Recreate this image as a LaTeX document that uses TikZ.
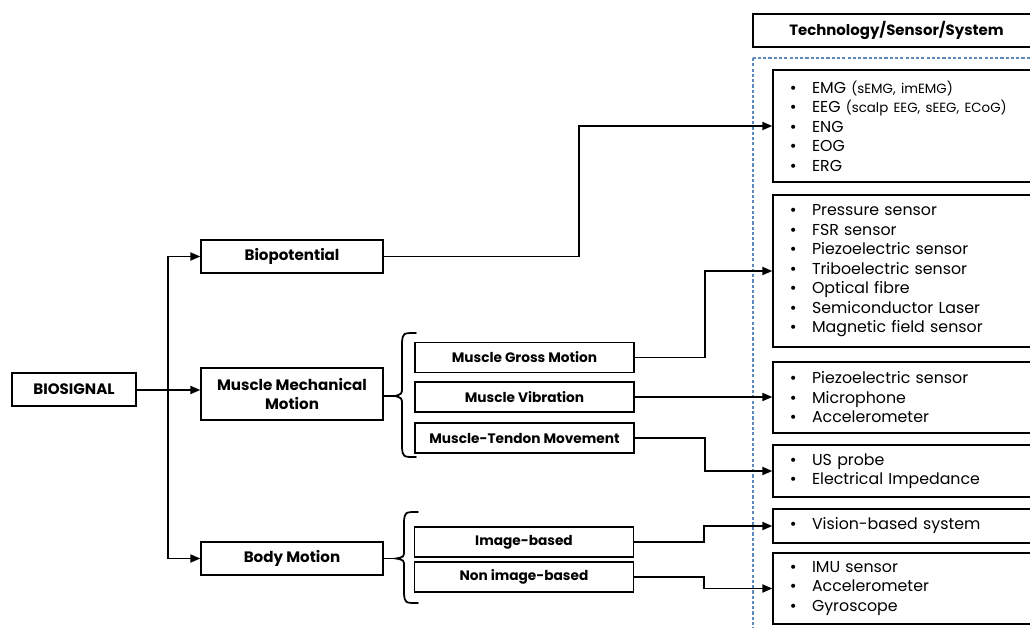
\documentclass[tikz,border=0pt]{standalone}
\usepackage{fontspec}
\setmainfont{Poppins}
\newfontfamily\bulletfont{DejaVu Sans}
\usetikzlibrary{arrows.meta}
\definecolor{dashblue}{RGB}{92,136,188}
\newcommand{\itm}[1]{\makebox[0.46cm][l]{{\bulletfont\fontsize{8}{9}\selectfont •}}#1}
\newcommand{\sm}[1]{{\fontsize{7.6}{9}\selectfont #1}}
\begin{document}
\begin{tikzpicture}[x=0.02cm,y=-0.02cm,
  box/.style={draw, line width=0.8pt, inner sep=0pt, font=\bfseries\fontsize{8.6}{10.5}\selectfont, align=center},
  subbox/.style={box, minimum width=4.38cm, minimum height=0.6cm, font=\bfseries\fontsize{7.8}{9}\selectfont},
  listbox/.style={draw, line width=0.8pt, inner xsep=0.32cm, inner ysep=0pt, text width=4.7cm, align=left, font=\fontsize{9}{11.1}\selectfont},
  arr/.style={line width=1pt, -{Triangle[length=5.7pt,width=4.6pt]}},
  ln/.style={line width=1pt},
  brc/.style={line width=1pt, line cap=round}]
\useasboundingbox (0,0) rectangle (1030,628);

% dashed region
\draw[dashblue, line width=0.85pt, dash pattern=on 1.8pt off 1.2pt] (753,58) rectangle (1045,645);

% header
\node[box, minimum width=5.74cm, minimum height=0.66cm, font=\bfseries\fontsize{8.5}{11}\selectfont] (tech) at (896.5,30.5) {Technology/Sensor/System};

% left column
\node[box, minimum width=2.48cm, minimum height=0.66cm] (bio) at (74,389.5) {BIOSIGNAL};
\node[box, minimum width=3.64cm, minimum height=0.66cm] (biop) at (292,256.5) {Biopotential};
\node[box, minimum width=3.64cm, minimum height=1.04cm] (mmm) at (292,394) {Muscle Mechanical\\Motion};
\node[box, minimum width=3.64cm, minimum height=0.66cm] (body) at (292,558.5) {Body Motion};

% sub boxes
\node[subbox] (gross) at (524.5,357.5) {Muscle Gross Motion};
\node[subbox] (vib) at (524.5,397) {Muscle Vibration};
\node[subbox] (tendon) at (524.5,438) {Muscle-Tendon Movement};
\node[subbox] (img) at (524,542) {Image-based};
\node[subbox] (nonimg) at (524,577) {Non image-based};

% list boxes
\node[listbox, minimum height=2.24cm] (t1) at (906.5,126) {\itm{EMG \sm{(sEMG, imEMG)}}\\\itm{EEG \sm{(scalp EEG, sEEG, ECoG)}}\\\itm{ENG}\\\itm{EOG}\\\itm{ERG}};
\node[listbox, minimum height=3.04cm] (t2) at (906.5,271) {\itm{Pressure sensor}\\\itm{FSR sensor}\\\itm{Piezoelectric sensor}\\\itm{Triboelectric sensor}\\\itm{Optical fibre}\\\itm{Semiconductor Laser}\\\itm{Magnetic field sensor}};
\node[listbox, minimum height=1.42cm] (t3) at (906.5,397.5) {\itm{Piezoelectric sensor}\\\itm{Microphone}\\\itm{Accelerometer}};
\node[listbox, minimum height=1.04cm] (t4) at (906.5,471) {\itm{US probe}\\\itm{Electrical Impedance}};
\node[listbox, minimum height=0.68cm] (t5) at (906.5,526) {\itm{Vision-based system}};
\node[listbox, minimum height=1.42cm] (t6) at (906.5,588.5) {\itm{IMU sensor}\\\itm{Accelerometer}\\\itm{Gyroscope}};

% connectors from BIOSIGNAL
\coordinate (split) at (168,390);
\draw[arr] (bio.east |- split) -- (split -| mmm.west);
\draw[arr] (split) |- (biop.west);
\draw[arr] (split) |- (body.west);

% to technologies
\draw[arr] (biop.east) -- ++(195,0) |- (t1.west);
\draw[arr] (gross.east) -- ++(70,0) |- (t2.west);
\draw[arr] (vib.east) -- (vib.east -| t3.west);
\draw[arr] (tendon.east) -- ++(70,0) |- (t4.west);
\draw[arr] (img.east) -- ++(70,0) |- (t5.west);
\draw[arr] (nonimg.east) -- ++(70,0) |- (t6.west);

% braces
\coordinate (b1) at (395,396);
\draw[ln] (mmm.east |- b1) -- (b1);
\draw[brc] (416,333) .. controls (403,333) .. (402,342) -- (402,387) .. controls (402,394) .. (b1) .. controls (402,398) .. (402,405) -- (402,448) .. controls (403,457) .. (416,457);
\coordinate (b2) at (396,558.5);
\draw[ln] (body.east) -- (b2);
\draw[brc] (418,512) .. controls (405,512) .. (404,521) -- (404,550) .. controls (404,557) .. (b2) .. controls (404,560) .. (404,567) -- (404,594) .. controls (405,603) .. (418,603);
\end{tikzpicture}
\end{document}
